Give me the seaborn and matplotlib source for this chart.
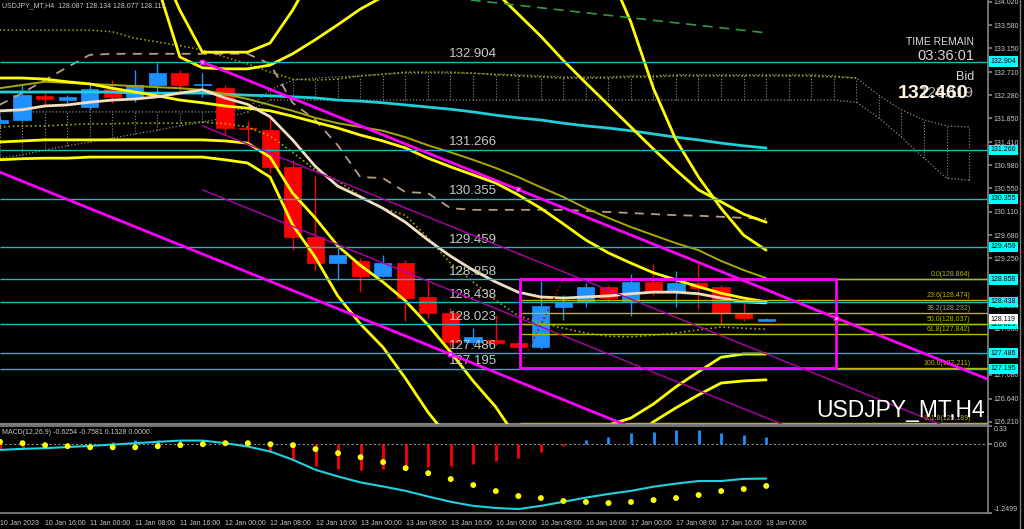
import numpy as np
import matplotlib
matplotlib.use("Agg")
import matplotlib.pyplot as plt
from matplotlib.lines import Line2D
from matplotlib.patches import Rectangle
import seaborn as sns

# ---- USDJPY_MT H4 candles, 10 Jan 08:00 .. 18 Jan 00:00 ----
opens = [131.764, 131.820, 132.266, 132.191, 132.061, 132.396, 132.247, 132.470, 132.693, 132.470,
         132.414, 131.671, 131.634, 130.946, 129.645, 129.162, 129.199, 128.920, 129.162, 128.530,
         128.232, 127.693, 127.730, 127.675, 127.600, 128.344, 128.437, 128.715, 128.455, 128.808,
         128.623, 128.790, 128.715, 128.232, 128.087]
highs = [131.875, 132.470, 132.340, 132.284, 132.526, 132.563, 132.749, 132.879, 132.749, 132.693,
         132.470, 131.801, 131.875, 131.076, 130.779, 129.440, 129.255, 129.310, 129.217, 128.808,
         128.325, 127.953, 128.195, 127.690, 128.827, 128.567, 128.790, 128.753, 128.957, 129.143,
         129.013, 129.143, 128.753, 128.418, 128.134]
lows = [131.745, 131.800, 132.060, 132.136, 132.005, 132.136, 132.154, 132.321, 132.340, 132.247,
        131.541, 131.392, 130.834, 129.403, 129.032, 128.846, 128.623, 128.902, 128.084, 128.139,
        127.600, 127.637, 127.637, 127.582, 127.563, 128.102, 128.344, 128.437, 128.176, 128.567,
        128.344, 128.307, 128.009, 128.084, 128.077]
closes = [131.820, 132.284, 132.210, 132.247, 132.396, 132.247, 132.470, 132.693, 132.470, 132.489,
          131.671, 131.643, 130.946, 129.645, 129.162, 129.310, 128.920, 129.162, 128.511, 128.232,
          127.693, 127.786, 127.675, 127.600, 128.362, 128.437, 128.715, 128.511, 128.808, 128.623,
          128.790, 128.697, 128.232, 128.139, 128.119]

time_labels = ["10 Jan 2023", "10 Jan 16:00", "11 Jan 00:00", "11 Jan 08:00", "11 Jan 16:00",
               "12 Jan 00:00", "12 Jan 08:00", "12 Jan 16:00", "13 Jan 00:00", "13 Jan 08:00",
               "13 Jan 16:00", "16 Jan 00:00", "16 Jan 08:00", "16 Jan 16:00", "17 Jan 00:00",
               "17 Jan 08:00", "17 Jan 16:00", "18 Jan 00:00"]

# ---- indicators on price ----
wheat_ma = [131.99, 132.01, 132.08, 132.10, 132.15, 132.19, 132.21, 132.25, 132.32, 132.38,
            132.23, 132.11, 131.88, 131.45, 130.96, 130.59, 130.39, 130.18, 129.92, 129.59,
            129.29, 129.03, 128.81, 128.62, 128.53, 128.51, 128.53, 128.55, 128.59, 128.62,
            128.62, 128.59, 128.51, 128.44, 128.42]
mid_band = [132.60, 132.60, 132.58, 132.53, 132.49, 132.41, 132.34, 132.27, 132.19, 132.14,
            132.08, 132.04, 131.99, 131.89, 131.78, 131.67, 131.54, 131.43, 131.30, 131.11,
            130.95, 130.80, 130.65, 130.43, 130.18, 129.89, 129.59, 129.35, 129.16, 128.98,
            128.85, 128.72, 128.60, 128.51, 128.44]
olive_band = [132.41, 132.47, 132.53, 132.51, 132.49, 132.47, 132.45, 132.43, 132.41, 132.38,
              132.30, 132.21, 132.10, 131.99, 131.86, 131.76, 131.69, 131.62, 131.50, 131.35,
              131.22, 131.08, 130.93, 130.76, 130.57, 130.39, 130.18, 130.00, 129.83, 129.68,
              129.53, 129.40, 129.20, 129.03, 128.88]
cyan_ma = [132.34, 132.34, 132.34, 132.34, 132.34, 132.34, 132.32, 132.32, 132.32, 132.32,
           132.30, 132.28, 132.27, 132.25, 132.23, 132.19, 132.17, 132.14, 132.10, 132.06,
           132.02, 131.97, 131.91, 131.86, 131.82, 131.76, 131.71, 131.67, 131.62, 131.56,
           131.50, 131.45, 131.39, 131.34, 131.30]
kijun = [132.10, 132.32, 132.56, 132.80, 133.03, 133.05, 133.05, 133.05, 133.05, 133.05,
         133.05, 133.05, 132.86, 132.14, 131.82, 131.35, 130.76, 130.74, 130.48, 130.46,
         130.18, 130.15, 130.15, 130.15, 130.15, 130.15, 130.13, 130.11, 130.09, 130.07,
         130.05, 130.04, 130.02, 130.00, 129.98]
tenkan_dot = [131.69, 131.71, 131.71, 131.73, 131.75, 131.75, 131.76, 131.76, 131.76, 131.78,
              131.75, 131.69, 131.52, 131.22, 130.89, 130.69, 130.41, 130.18, 130.05, 129.63,
              129.16, 128.81, 128.47, 128.18, 128.05, 127.95, 127.86, 127.80, 127.79, 127.82,
              127.86, 127.92, 127.97, 127.95, 127.93]
span_a = [133.49, 133.49, 133.49, 133.49, 133.49, 133.46, 133.34, 133.27, 133.20, 133.12,
          132.99, 132.86, 132.71, 132.58, 132.56, 132.58, 132.64, 132.67, 132.71, 132.71,
          132.71, 132.69, 132.66, 132.64, 132.62, 132.60, 132.60, 132.60, 132.62, 132.62,
          132.64, 132.64, 132.64, 132.64, 132.64, 132.64, 132.64, 132.62, 132.60]
cloud_top = [131.97, 131.97, 131.97, 131.97, 131.97, 131.97, 131.97, 131.97, 131.97, 131.97,
             131.97, 132.04, 132.38, 132.56, 132.60, 132.62, 132.64, 132.67, 132.69, 132.69,
             132.69, 132.69, 132.67, 132.66, 132.64, 132.62, 132.62, 132.62, 132.64, 132.64,
             132.66, 132.66, 132.66, 132.66, 132.66, 132.66, 132.66, 132.64, 132.60, 132.28,
             132.01, 131.82, 131.71, 131.69]
cloud_bot = [131.11, 131.17, 131.26, 131.34, 131.41, 131.48, 131.56, 131.63, 131.71, 131.78,
             131.86, 131.97, 132.19, 132.19, 132.19, 132.19, 132.19, 132.19, 132.19, 132.19,
             132.19, 132.19, 132.19, 132.19, 132.19, 132.19, 132.19, 132.19, 132.19, 132.19,
             132.19, 132.19, 132.19, 132.19, 132.19, 132.19, 132.19, 132.19, 132.15, 131.86,
             131.50, 131.11, 130.74, 130.70]
lower_band1 = [131.41, 131.43, 131.45, 131.45, 131.45, 131.45, 131.45, 131.45, 131.45, 131.45,
               131.43, 131.39, 131.13, 130.46, 130.00, 129.48, 129.12, 128.81, 128.46, 128.01,
               127.51, 126.97, 126.49, 125.87]
lower_band2 = [131.08, 131.10, 131.11, 131.11, 131.13, 131.13, 131.13, 131.13, 131.13, 131.13,
               131.08, 131.02, 130.76, 129.87, 129.27, 128.55, 128.03, 127.60, 127.02, 126.39,
               125.87]
bottom_band1_start = 26
bottom_band1 = [126.02, 126.15, 126.28, 126.54, 126.86, 127.14, 127.41, 127.47, 127.47]
bottom_band2_start = 28
bottom_band2 = [125.87, 126.21, 126.47, 126.71, 126.93, 126.97, 126.99]
upper_band1_start = 22
upper_band1 = [134.20, 133.79, 133.38, 132.93, 132.51, 132.10, 131.69, 131.28, 130.89, 130.52,
               130.30, 130.07, 129.92]
upper_band2_start = 27
upper_band2 = [134.61, 133.64, 132.41, 131.45, 130.76, 130.18, 129.68, 129.40]
far_band_start = 7
far_band1 = [134.33, 132.99, 132.79, 132.77, 132.77, 132.84, 133.05, 133.31, 133.59, 133.88, 134.11]
far_band2 = [134.79, 133.86, 133.08, 133.08, 133.08, 133.25, 133.86, 134.61]
chikou_x = [20.9, 34.0]
chikou_y = [134.05, 133.44]
red_dot_x = [23.0, 25.0]
red_dot_y = [127.17, 128.85]

# ---- objects ----
levels = [132.904, 131.266, 130.355, 129.459, 128.858, 128.438, 128.023, 127.486, 127.195]
fib_names = ["0.0", "23.6", "38.2", "50.0", "61.8", "100.0", "161.8"]
fib_prices = [128.864, 128.474, 128.232, 128.037, 127.842, 127.211, 126.189]
box_x = [23.08, 37.1]
chan_x = [9.0, 44.0]
chan_upper = [132.898, 126.973]
chan_mid1 = [131.71, 125.78]
chan_mid2 = [130.52, 124.59]
chan_lower_x = [0.0, 44.0]
chan_lower = [130.853, 123.404]
anchor_x = [9.0, 23.0, 37.1, 20.0]
anchor_y = [132.898, 130.528, 128.141, 127.467]
axis_ticks = [134.020, 133.580, 133.150, 132.710, 132.280, 131.850, 131.410, 130.980, 130.550,
              130.110, 129.680, 129.250, 128.820, 128.380, 127.950, 127.510, 127.080, 126.640, 126.210]
last_price = 128.119

# ---- MACD(12,26,9) ----
macd_line = [-0.104, -0.085, -0.073, -0.052, -0.031, -0.007, 0.018, 0.042, 0.065, 0.065,
             0.018, -0.043, -0.134, -0.284, -0.465, -0.587, -0.695, -0.768, -0.848, -0.951,
             -1.046, -1.121, -1.159, -1.178, -1.121, -1.046, -0.970, -0.904, -0.848, -0.772,
             -0.716, -0.669, -0.669, -0.630, -0.625]
macd_signal = [0.041, 0.018, -0.018, -0.036, -0.055, -0.055, -0.055, -0.036, -0.018, 0.0,
               0.018, 0.018, 0.0, -0.018, -0.090, -0.163, -0.236, -0.326, -0.435, -0.526,
               -0.634, -0.742, -0.852, -0.942, -0.978, -1.032, -1.050, -1.069, -1.050, -1.015,
               -0.978, -0.924, -0.852, -0.815, -0.758]
macd_hist = [-0.08, -0.090, -0.042, -0.019, 0.030, 0.048, 0.067, 0.067, 0.078, 0.067,
             0.009, -0.042, -0.133, -0.284, -0.404, -0.453, -0.477, -0.453, -0.435, -0.423,
             -0.404, -0.356, -0.302, -0.253, -0.151, -0.042, 0.067, 0.138, 0.211, 0.230,
             0.260, 0.260, 0.211, 0.169, 0.133]

BULL, BEAR = "#1E90FF", "#FF0000"
LEVEL = "#20B8C0"
FIB = "#B8B800"
MAG, MAG_THIN = "#FF00FF", "#B000B0"
YEL, OLIVE = "#FFFF00", "#A8A800"
TXT = "#C8C8C8"
GRID = "#8C8C8C"

sns.set_theme(style="dark", rc={"axes.facecolor": "black", "figure.facecolor": "black",
                                "axes.grid": False, "savefig.facecolor": "black"})
plt.rcParams["font.family"] = ["Liberation Sans", "DejaVu Sans"]

fig = plt.figure(figsize=(10.24, 5.29), dpi=100)
ax = fig.add_axes([0, 105 / 529, 988 / 1024, 424 / 529])
ax2 = fig.add_axes([0, 16 / 529, 988 / 1024, 87 / 529])
for a in (ax, ax2):
    a.set_facecolor("black")
    a.set_xlim(0.022, 43.84)
    for s in a.spines.values():
        s.set_visible(False)
    a.spines["right"].set_visible(True)
    a.spines["right"].set_color("#808080")
ax.set_ylim(126.169, 134.05)
ax2.set_ylim(-1.2499, 0.33)
ax.spines["bottom"].set_visible(True)
ax.spines["bottom"].set_color("#808080")
ax.spines["bottom"].set_linewidth(1.5)
ax2.spines["top"].set_visible(True)
ax2.spines["bottom"].set_visible(True)
for k in ("top", "bottom"):
    ax2.spines[k].set_color("#808080")


def line(a, start, vals, **kw):
    sns.lineplot(x=np.arange(start, start + len(vals)), y=vals, ax=a, **kw)


# ichimoku cloud hatch
cx = np.arange(len(cloud_top))
ax.vlines(cx, cloud_bot, cloud_top, colors=GRID, linestyles=":", lw=0.8, zorder=1)
line(ax, 0, cloud_top, color=GRID, lw=0.9, linestyle=":", zorder=1)
line(ax, 0, cloud_bot, color=GRID, lw=0.9, linestyle=":", zorder=1)
line(ax, 0, span_a, color=OLIVE, lw=1.1, linestyle=":", zorder=1)

# candles
x = np.arange(len(opens))
o, h, l, c = map(np.array, (opens, highs, lows, closes))
col = np.where(c >= o, BULL, BEAR)
ax.vlines(x, l, h, colors=col, lw=1, zorder=2)
body = np.maximum(np.abs(c - o), 0.02)
ax.bar(x, body, bottom=np.minimum(o, c), width=0.76, color=col, edgecolor=col, lw=0.5, zorder=2)

# indicator lines
line(ax, 0, kijun, color="#B59D85", lw=1.3, linestyle=(0, (5, 4)), zorder=3)
line(ax, 0, tenkan_dot, color=OLIVE, lw=1.2, linestyle=":", zorder=3)
line(ax, 0, cyan_ma, color="#1FD0D8", lw=2, zorder=3)
line(ax, 0, olive_band, color=OLIVE, lw=1.4, zorder=3)
line(ax, 0, mid_band, color=YEL, lw=2, zorder=3)
line(ax, 0, wheat_ma, color="#F3DEC0", lw=2, zorder=3)
line(ax, 0, lower_band1, color=YEL, lw=2, zorder=3)
line(ax, 0, lower_band2, color=YEL, lw=2, zorder=3)
line(ax, bottom_band1_start, bottom_band1, color=YEL, lw=2, zorder=3)
line(ax, bottom_band2_start, bottom_band2, color=YEL, lw=2, zorder=3)
line(ax, upper_band1_start, upper_band1, color=YEL, lw=2, zorder=3)
line(ax, upper_band2_start, upper_band2, color=YEL, lw=2, zorder=3)
line(ax, far_band_start, far_band1, color=YEL, lw=2, zorder=3)
line(ax, far_band_start, far_band2, color=YEL, lw=2, zorder=3)
sns.lineplot(x=chikou_x, y=chikou_y, ax=ax, color="#2E9B3E", lw=1.2, linestyle=(0, (6, 4)), zorder=3)
sns.lineplot(x=red_dot_x, y=red_dot_y, ax=ax, color="#B00000", lw=1.2, linestyle=":", zorder=3)

# horizontal levels
ax.hlines(levels, 0, 44, colors=LEVEL, lw=1, zorder=4)
for p in levels:
    ax.annotate(f"{p:.3f}", xy=(22.05, p), xytext=(0, 1), textcoords="offset points",
                ha="right", va="bottom", color=TXT, fontsize=9.5, zorder=5)

# fibonacci
ax.hlines(fib_prices, box_x[0], 44, colors=FIB, lw=1, zorder=4)
for n, p in zip(fib_names, fib_prices):
    ax.annotate(f"{n}({p:.3f})", xy=(43.08, p), xytext=(0, 0.5), textcoords="offset points",
                ha="right", va="bottom", color=FIB, fontsize=5, zorder=5)
ax.add_patch(Rectangle((box_x[0], fib_prices[5]), box_x[1] - box_x[0], fib_prices[0] - fib_prices[5],
                       fill=False, ec=MAG, lw=2, zorder=5))

# channel
sns.lineplot(x=chan_x, y=chan_upper, ax=ax, color=MAG, lw=2, zorder=5)
sns.lineplot(x=chan_lower_x, y=chan_lower, ax=ax, color=MAG, lw=2, zorder=5)
sns.lineplot(x=chan_x, y=chan_mid1, ax=ax, color=MAG_THIN, lw=1, zorder=5)
sns.lineplot(x=chan_x, y=chan_mid2, ax=ax, color=MAG_THIN, lw=1, zorder=5)
ax.plot(anchor_x, anchor_y, ls="none", marker="s", ms=3.5, mfc="#FFA0FF", mec=MAG, zorder=6)

# right price axis
ax.yaxis.tick_right()
ax.set_yticks(axis_ticks)
ax.set_yticklabels([f"{t:.3f}" for t in axis_ticks])
ax.tick_params(axis="y", labelsize=5, labelcolor=TXT, color="#808080", length=3, pad=1, direction="out")
ax.set_xticks([])
ax.set_xlabel("")
ax.set_ylabel("")
ytr = ax.get_yaxis_transform()
for p in levels:
    ax.text(1.003, p, f"{p:.3f}", transform=ytr, ha="left", va="center", fontsize=5, color="black",
            bbox=dict(boxstyle="square,pad=0.25", fc="#00FFFF", ec="none"), zorder=6)
ax.text(1.003, last_price, f"{last_price:.3f}", transform=ytr, ha="left", va="center", fontsize=5,
        color="black", bbox=dict(boxstyle="square,pad=0.25", fc="white", ec="none"), zorder=6)

# MACD panel
hx = np.arange(len(macd_hist))
hv = np.array(macd_hist)
ax2.vlines(hx, 0, hv, colors=np.where(hv >= 0, BULL, BEAR), lw=2, zorder=2)
ax2.axhline(0, color=GRID, lw=0.8, ls=(0, (2, 2)), zorder=1)
line(ax2, 0, macd_line, color="#1ED2E0", lw=1.5, zorder=3)
sns.scatterplot(x=np.arange(len(macd_signal)), y=macd_signal, ax=ax2, color=YEL, s=18,
                edgecolor="none", zorder=4)
ax2.yaxis.tick_right()
ax2.set_yticks([0.33, 0.0, -1.2499])
ax2.set_yticklabels(["0.33", "0.00", "-1.2499"])
ax2.tick_params(axis="y", labelsize=5, labelcolor=TXT, color="#808080", length=3, pad=1)
ylab = ax2.get_yticklabels()
ylab[0].set_va("top")
ylab[2].set_va("bottom")
ax2.set_xticks(np.arange(0, len(opens), 2))
ax2.set_xticklabels(time_labels)
ax2.tick_params(axis="x", labelsize=5, labelcolor=TXT, color="#808080", length=3, pad=2)
for t in ax2.get_xticklabels():
    t.set_ha("left")
ax2.set_xlabel("")
ax2.set_ylabel("")

# texts
fig.text(2 / 1024, 1 - 6 / 529, "USDJPY_MT,H4  128.087 128.134 128.077 128.119", fontsize=5,
         color=TXT, va="center")
fig.text(2 / 1024, 1 - 432 / 529, "MACD(12,26,9) -0.6254 -0.7581 0.1328 0.0000", fontsize=5,
         color=TXT, va="center")
fig.text(974 / 1024, 1 - 42 / 529, "TIME REMAIN", fontsize=7.5, color="#D8D8D8", ha="right", va="center")
fig.text(974 / 1024, 1 - 56 / 529, "03:36:01", fontsize=10.5, color="#D8D8D8", ha="right", va="center")
fig.text(974 / 1024, 1 - 77 / 529, "Bid", fontsize=9, color="#D8D8D8", ha="right", va="center")
fig.text(974 / 1024, 1 - 93 / 529, "128.119", fontsize=11, color="#B0B0B0", ha="right", va="center")
fig.text(968 / 1024, 1 - 94 / 529, "132.460", fontsize=14, weight="bold", color="#FFF3E3",
         ha="right", va="center")
fig.text(985 / 1024, 1 - 410 / 529, "USDJPY_MT,H4", fontsize=16.5, color="white", ha="right", va="center")
fig.add_artist(Line2D([1020 / 1024, 1020 / 1024], [0, 1], color="#808080", lw=1))

fig.savefig("out.png", dpi=100, facecolor="black")
